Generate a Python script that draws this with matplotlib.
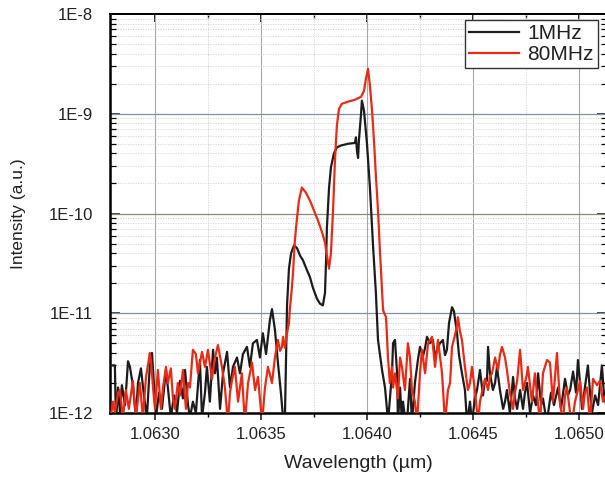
import numpy as np
import matplotlib
matplotlib.use('Agg')
import matplotlib.pyplot as plt
from matplotlib.ticker import MultipleLocator, FuncFormatter, LogLocator, NullFormatter, FormatStrFormatter

plt.rcParams['font.family'] = ['Liberation Sans', 'DejaVu Sans']

# Spectra: wavelength in um, intensity in units of 1E-12 a.u.
wl_1mhz = np.array([
    1.062788, 1.062811, 1.062816, 1.062826, 1.062835, 1.062844, 1.062859, 1.062873,
    1.062882, 1.062896, 1.062910, 1.062920, 1.062934, 1.062948, 1.062962, 1.062976,
    1.062986, 1.062995, 1.063005, 1.063019, 1.063033, 1.063052, 1.063061, 1.063075,
    1.063090, 1.063104, 1.063118, 1.063132, 1.063142, 1.063156, 1.063165, 1.063179,
    1.063193, 1.063212, 1.063222, 1.063236, 1.063245, 1.063259, 1.063274, 1.063283,
    1.063292, 1.063307, 1.063321, 1.063340, 1.063354, 1.063368, 1.063387, 1.063401,
    1.063415, 1.063434, 1.063448, 1.063462, 1.063481, 1.063495, 1.063509, 1.063524,
    1.063533, 1.063542, 1.063552, 1.063566, 1.063580, 1.063594, 1.063604, 1.063613,
    1.063623, 1.063632, 1.063642, 1.063656, 1.063670, 1.063684, 1.063698, 1.063717,
    1.063731, 1.063745, 1.063764, 1.063778, 1.063792, 1.063802, 1.063807, 1.063811,
    1.063821, 1.063830, 1.063844, 1.063858, 1.063877, 1.063910, 1.063943, 1.063948,
    1.063953, 1.063958, 1.063962, 1.063972, 1.063976, 1.063986, 1.064000, 1.064014,
    1.064028, 1.064042, 1.064052, 1.064071, 1.064085, 1.064094, 1.064099, 1.064118,
    1.064123, 1.064132, 1.064142, 1.064146, 1.064156, 1.064165, 1.064170, 1.064179,
    1.064189, 1.064193, 1.064203, 1.064212, 1.064226, 1.064241, 1.064250, 1.064264,
    1.064274, 1.064283, 1.064297, 1.064311, 1.064321, 1.064330, 1.064344, 1.064358,
    1.064368, 1.064377, 1.064387, 1.064401, 1.064410, 1.064424, 1.064434, 1.064448,
    1.064462, 1.064472, 1.064486, 1.064495, 1.064509, 1.064519, 1.064533, 1.064547,
    1.064557, 1.064566, 1.064571, 1.064580, 1.064594, 1.064604, 1.064613, 1.064627,
    1.064642, 1.064651, 1.064660, 1.064674, 1.064689, 1.064698, 1.064708, 1.064722,
    1.064736, 1.064745, 1.064755, 1.064769, 1.064783, 1.064797, 1.064807, 1.064821,
    1.064830, 1.064844, 1.064854, 1.064868, 1.064882, 1.064901, 1.064915, 1.064934,
    1.064948, 1.064958, 1.064972, 1.064986, 1.064995, 1.065005, 1.065014, 1.065028,
    1.065042, 1.065052, 1.065061, 1.065076, 1.065090, 1.065108, 1.065118, 1.065132,
])
int_1mhz = np.array([
    3.0, 3.0, 0.8, 1.8, 1.0, 1.9, 1.2, 3.3,
    2.9, 1.9, 0.9, 2.0, 2.8, 1.5, 0.9, 3.0,
    4.0, 2.0, 0.9, 1.6, 1.1, 2.7, 1.8, 0.9,
    1.5, 1.0, 2.1, 1.4, 2.7, 1.2, 0.9, 1.3,
    1.0, 3.4, 0.9, 1.6, 2.9, 1.3, 4.3, 2.5,
    3.6, 1.1, 2.5, 4.1, 1.8, 2.9, 3.6, 2.5,
    3.9, 4.6, 2.9, 5.0, 5.4, 3.6, 6.3, 3.9,
    5.8, 8.5, 11.0, 6.8, 3.2, 1.6, 0.9, 0.9,
    12, 28, 40, 48, 45, 38, 34, 27,
    23, 18, 14, 12.5, 12, 16, 34, 72,
    180, 290, 400, 460, 480, 500, 510, 580,
    420, 360, 540, 1000, 1350, 1070, 500, 180,
    50, 16, 5.4, 2.7, 1.8, 1.1, 0.8, 2.5,
    5.0, 5.4, 2.5, 0.8, 1.8, 0.8, 1.3, 0.9,
    0.8, 1.1, 2.2, 0.8, 2.0, 3.5, 4.6, 3.7,
    4.5, 5.8, 5.0, 5.4, 3.5, 4.3, 5.0, 5.4,
    3.8, 4.3, 8.0, 11.5, 10.5, 6.5, 3.8, 2.5,
    1.7, 0.8, 1.3, 0.8, 1.4, 1.7, 2.7, 1.5,
    2.2, 2.1, 4.6, 2.5, 1.7, 2.0, 2.9, 1.7,
    1.1, 1.3, 1.7, 1.0, 2.3, 1.4, 1.1, 1.7,
    1.1, 1.6, 2.0, 1.0, 1.5, 1.2, 2.5, 1.2,
    1.4, 0.9, 1.0, 1.6, 1.2, 1.8, 1.1, 2.2,
    1.5, 1.7, 2.6, 1.6, 3.4, 2.0, 1.1, 1.8,
    3.0, 1.6, 1.0, 1.5, 1.2, 3.0, 1.5, 1.1,
])

wl_80mhz = np.array([
    1.062788, 1.062802, 1.062811, 1.062826, 1.062835, 1.062849, 1.062863, 1.062877,
    1.062896, 1.062910, 1.062929, 1.062943, 1.062958, 1.062967, 1.062976, 1.062981,
    1.062991, 1.063000, 1.063014, 1.063028, 1.063038, 1.063052, 1.063061, 1.063075,
    1.063085, 1.063094, 1.063108, 1.063118, 1.063132, 1.063146, 1.063156, 1.063165,
    1.063179, 1.063193, 1.063203, 1.063222, 1.063236, 1.063250, 1.063269, 1.063283,
    1.063297, 1.063316, 1.063330, 1.063344, 1.063354, 1.063363, 1.063377, 1.063392,
    1.063410, 1.063424, 1.063439, 1.063458, 1.063472, 1.063486, 1.063495, 1.063505,
    1.063519, 1.063533, 1.063552, 1.063566, 1.063580, 1.063590, 1.063599, 1.063604,
    1.063613, 1.063623, 1.063632, 1.063637, 1.063646, 1.063651, 1.063660, 1.063670,
    1.063679, 1.063693, 1.063712, 1.063731, 1.063750, 1.063769, 1.063788, 1.063802,
    1.063811, 1.063821, 1.063830, 1.063840, 1.063849, 1.063858, 1.063868, 1.063882,
    1.063910, 1.063943, 1.063972, 1.063986, 1.063995, 1.064005, 1.064014, 1.064024,
    1.064033, 1.064042, 1.064052, 1.064061, 1.064071, 1.064076, 1.064090, 1.064099,
    1.064108, 1.064118, 1.064123, 1.064132, 1.064146, 1.064156, 1.064165, 1.064179,
    1.064193, 1.064203, 1.064212, 1.064226, 1.064236, 1.064250, 1.064259, 1.064274,
    1.064288, 1.064307, 1.064321, 1.064335, 1.064354, 1.064368, 1.064382, 1.064392,
    1.064401, 1.064415, 1.064424, 1.064429, 1.064439, 1.064448, 1.064462, 1.064476,
    1.064486, 1.064495, 1.064509, 1.064524, 1.064533, 1.064542, 1.064557, 1.064571,
    1.064580, 1.064590, 1.064604, 1.064618, 1.064627, 1.064637, 1.064651, 1.064660,
    1.064674, 1.064689, 1.064698, 1.064708, 1.064722, 1.064736, 1.064745, 1.064755,
    1.064759, 1.064778, 1.064792, 1.064816, 1.064830, 1.064849, 1.064863, 1.064877,
    1.064896, 1.064910, 1.064924, 1.064934, 1.064943, 1.064958, 1.064967, 1.064981,
    1.064995, 1.065005, 1.065019, 1.065028, 1.065038, 1.065052, 1.065066, 1.065085,
    1.065099, 1.065113, 1.065132,
])
int_80mhz = np.array([
    0.8, 1.3, 1.0, 1.6, 1.7, 0.9, 1.7, 1.1,
    2.1, 0.9, 2.0, 0.9, 2.3, 3.0, 4.0, 3.4,
    1.8, 1.1, 2.7, 1.1, 1.8, 2.9, 2.0, 2.8,
    1.4, 1.1, 2.0, 1.5, 2.7, 1.1, 2.0, 1.8,
    4.3, 3.9, 2.5, 4.1, 2.9, 4.3, 2.2, 3.6,
    4.8, 2.9, 1.8, 0.8, 1.6, 2.1, 2.9, 1.3,
    2.5, 0.8, 2.0, 3.2, 1.7, 2.3, 1.4, 0.8,
    1.8, 2.9, 2.0, 3.6, 5.4, 4.2, 4.6, 5.8,
    4.5, 6.3, 8.0, 11.5, 18, 25, 54, 90,
    135, 182, 162, 135, 107, 85, 65, 51,
    38, 28, 40, 107, 340, 760, 1120, 1260,
    1320, 1380, 1480, 1700, 2240, 2820, 1900, 1070,
    540, 240, 107, 43, 17, 10.7, 9.1, 3.6,
    2.0, 2.9, 1.8, 2.5, 1.4, 3.6, 2.9, 1.7,
    5.0, 3.6, 1.7, 1.3, 0.8, 2.5, 4.3, 2.5,
    5.0, 5.8, 2.9, 5.4, 2.5, 0.8, 1.7, 2.0,
    4.6, 6.0, 7.5, 9.1, 6.5, 5.4, 2.9, 1.7,
    2.0, 2.9, 1.7, 0.8, 1.3, 1.6, 2.2, 1.7,
    2.3, 2.5, 3.6, 2.7, 3.8, 4.6, 3.6, 2.7,
    1.6, 1.1, 1.6, 2.1, 4.3, 1.7, 2.0, 2.5,
    2.9, 1.3, 2.5, 0.8, 2.5, 3.4, 3.2, 1.3,
    4.0, 1.3, 0.8, 1.5, 1.8, 1.0, 0.8, 1.3,
    1.7, 2.1, 1.1, 1.6, 1.8, 0.8, 2.2, 1.9,
    2.1, 1.3, 1.6,
])

series_labels = ['1MHz', '80MHz']
series_colors = ['#1c1c1c', '#ec2a14']
x_range = (1.062788, 1.065132)
y_range = (1e-12, 1e-8)
decades = [1e-11, 1e-10, 1e-9]
decade_colors = ['#7f8fae', '#8a8a7a', '#7f8fae']

fig = plt.figure(figsize=(6.05, 4.79), dpi=100)
ax = fig.add_axes([110 / 605, 66 / 479, 497 / 605, 399 / 479])

ax.plot(wl_1mhz, int_1mhz * 1e-12, color=series_colors[0], lw=1.6, label=series_labels[0], zorder=3)
ax.plot(wl_80mhz, int_80mhz * 1e-12, color=series_colors[1], lw=1.6, label=series_labels[1], zorder=3)

ax.set_yscale('log')
ax.set_xlim(*x_range)
ax.set_ylim(*y_range)

# x axis: labelled every 0.0005 um, minor ticks halfway
ax.xaxis.set_major_locator(MultipleLocator(0.0005))
ax.xaxis.set_minor_locator(MultipleLocator(0.00025))
ax.xaxis.set_major_formatter(FormatStrFormatter('%.4f'))
ax.yaxis.set_major_locator(LogLocator(base=10, numticks=10))
ax.yaxis.set_minor_locator(LogLocator(base=10, subs=np.arange(2, 10), numticks=10))
ax.yaxis.set_minor_formatter(NullFormatter())
ax.yaxis.set_major_formatter(FuncFormatter(lambda v, _: '1E%d' % int(round(np.log10(v)))))

ax.tick_params(axis='x', which='major', direction='out', length=5, width=1.2,
               labelsize=12, pad=5, colors='#222222')
ax.tick_params(axis='x', which='minor', direction='out', length=3, width=1.0)
ax.tick_params(axis='y', which='major', direction='in', length=7, width=1.2,
               labelsize=12, pad=12, right=True, colors='#222222')
ax.tick_params(axis='y', which='minor', direction='in', length=4, width=0.9, right=True)

top = ax.secondary_xaxis('top')
top.xaxis.set_major_locator(MultipleLocator(0.0005))
top.xaxis.set_minor_locator(MultipleLocator(0.00025))
top.tick_params(which='major', direction='in', length=6, width=1.2, labeltop=False)
top.tick_params(which='minor', direction='in', length=3, width=1.0)

for side in ['left', 'bottom']:
    ax.spines[side].set_linewidth(1.8)
ax.spines['top'].set_linewidth(1.3)
top.spines['top'].set_linewidth(1.3)

# grid lines
ax.grid(which='major', axis='x', color='#a8a8a8', lw=0.8)
ax.grid(which='minor', axis='both', color='#d2d2d2', lw=0.6, ls=(0, (1.5, 1.5)))
for level, c in zip(decades, decade_colors):
    ax.axhline(level, color=c, lw=0.9, zorder=1)
ax.set_axisbelow(True)

ax.set_xlabel('Wavelength (\u00b5m)', fontsize=14, color='#222222')
ax.set_ylabel('Intensity (a.u.)', fontsize=12.5, color='#222222')
ax.xaxis.set_label_coords(0.5, -0.105)
ax.yaxis.set_label_coords(-0.17, 0.5)

leg = ax.legend(loc='upper right', bbox_to_anchor=(0.982, 0.985), borderaxespad=0,
                fontsize=15, handlelength=2.4, handletextpad=0.4, labelspacing=0.1,
                borderpad=0.2, fancybox=False, framealpha=1)
leg.get_frame().set_edgecolor('#333333')
leg.get_frame().set_linewidth(1.0)
for t in leg.get_texts():
    t.set_color('#222222')

fig.savefig('out.png', dpi=100)
